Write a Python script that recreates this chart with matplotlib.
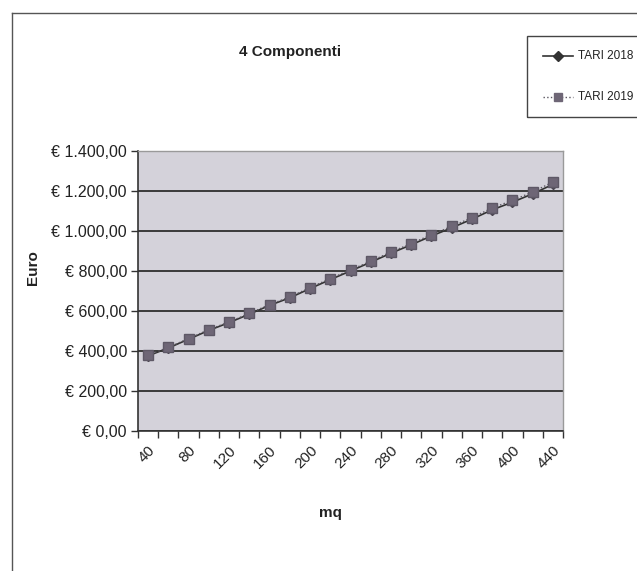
import matplotlib
matplotlib.use("Agg")
import matplotlib.pyplot as plt
from matplotlib.ticker import FuncFormatter, FixedLocator
from matplotlib.lines import Line2D

plt.rcParams['font.family'] = ['Liberation Sans', 'DejaVu Sans']

mq = [40, 60, 80, 100, 120, 140, 160, 180, 200, 220, 240,
      260, 280, 300, 320, 340, 360, 380, 400, 420, 440]
tari_2018 = [376, 415, 459, 503, 542, 584, 628, 666, 712, 757, 800,
             844, 889, 931, 975, 1016, 1059, 1106, 1144, 1186, 1233]
tari_2019 = [379, 418, 462, 507, 545, 588, 632, 670, 717, 762, 805,
             849, 895, 937, 982, 1023, 1067, 1115, 1153, 1195, 1245]
title = "4 Componenti"
series_names = ["TARI 2018", "TARI 2019"]

W, H = 637, 571
fig = plt.figure(figsize=(W / 100, H / 100), dpi=100)
fig.patch.set_facecolor('white')

# outer chart border (top and left visible)
fig.add_artist(Line2D([12 / W, 1.0], [1 - 13 / H, 1 - 13 / H], color='#555555', lw=1.0,
                      transform=fig.transFigure))
fig.add_artist(Line2D([12 / W, 12 / W], [1 - 13 / H, 0.0], color='#555555', lw=1.0,
                      transform=fig.transFigure))

ax = fig.add_axes([138 / W, 1 - 431 / H, (563 - 138) / W, (431 - 151) / H])
ax.set_facecolor('#d4d2da')

idx = list(range(len(mq)))
ax.plot(idx, tari_2018, color='#333333', lw=1.2, marker='D', markersize=5,
        markerfacecolor='#4a4550', markeredgecolor='#4a4550', zorder=3, label=series_names[0])
ax.plot(idx, tari_2019, color='#5a5560', lw=1.0, ls=':', marker='s', markersize=6.5,
        markerfacecolor='#6e6676', markeredgecolor='#5e5866', zorder=4, label=series_names[1])

ax.set_xlim(-0.5, len(mq) - 0.5)
ax.set_ylim(0, 1400)
ax.set_yticks(range(0, 1401, 200))
ax.yaxis.set_major_formatter(FuncFormatter(
    lambda v, p: "€ " + f"{v:,.2f}".replace(",", "X").replace(".", ",").replace("X", ".")))
ax.grid(axis='y', color='#3a3a3a', lw=1.4)
ax.set_axisbelow(True)

ax.set_xticks(idx[::2])
ax.set_xticklabels([str(m) for m in mq[::2]], rotation=45, ha='right', va='top',
                   rotation_mode='anchor', fontsize=11, color='#222222')
ax.xaxis.set_minor_locator(FixedLocator([i - 0.5 for i in range(len(mq) + 1)]))
ax.tick_params(axis='x', which='major', length=0, pad=9)
ax.tick_params(axis='x', which='minor', length=5, width=1, color='#333333', direction='out')
ax.tick_params(axis='y', length=5, width=1, color='#333333', labelsize=11.5, labelcolor='#222222', pad=3)

for s in ['left', 'bottom']:
    ax.spines[s].set_color('#333333')
    ax.spines[s].set_linewidth(1.2)
for s in ['top', 'right']:
    ax.spines[s].set_color('#9a9a9a')
    ax.spines[s].set_linewidth(1.0)

fig.text(290 / W, 1 - 52 / H, title, ha='center', va='center', fontsize=11,
         fontweight='bold', color='#222222')
fig.text(33 / W, 1 - 268 / H, "Euro", ha='center', va='center', rotation=90,
         fontsize=11, fontweight='bold', color='#222222')
fig.text(330 / W, 1 - 513 / H, "mq", ha='center', va='center', fontsize=11,
         fontweight='bold', color='#222222')

# legend box
lx0, ly0 = 527 / W, 1 - 117 / H
fig.add_artist(plt.Rectangle((lx0, ly0), 1.0 - lx0 + 0.01, (117 - 36) / H, fill=False,
                             edgecolor='#444444', lw=1.0, transform=fig.transFigure))
for k, (name, yy) in enumerate(zip(series_names, [56, 97])):
    yf = 1 - yy / H
    if k == 0:
        fig.add_artist(Line2D([543 / W, 573 / W], [yf, yf], color='#333333', lw=1.2,
                              transform=fig.transFigure))
        fig.add_artist(Line2D([558 / W], [yf], marker='D', markersize=5, color='#333333',
                              transform=fig.transFigure))
    else:
        fig.add_artist(Line2D([543 / W, 573 / W], [yf, yf], color='#5a5560', lw=1.0, ls=':',
                              transform=fig.transFigure))
        fig.add_artist(Line2D([558 / W], [yf], marker='s', markersize=6, color='#6e6676',
                              transform=fig.transFigure))
    fig.text(578 / W, yf, name, ha='left', va='center', fontsize=8.5, color='#222222')

fig.savefig("out.png", dpi=100)
